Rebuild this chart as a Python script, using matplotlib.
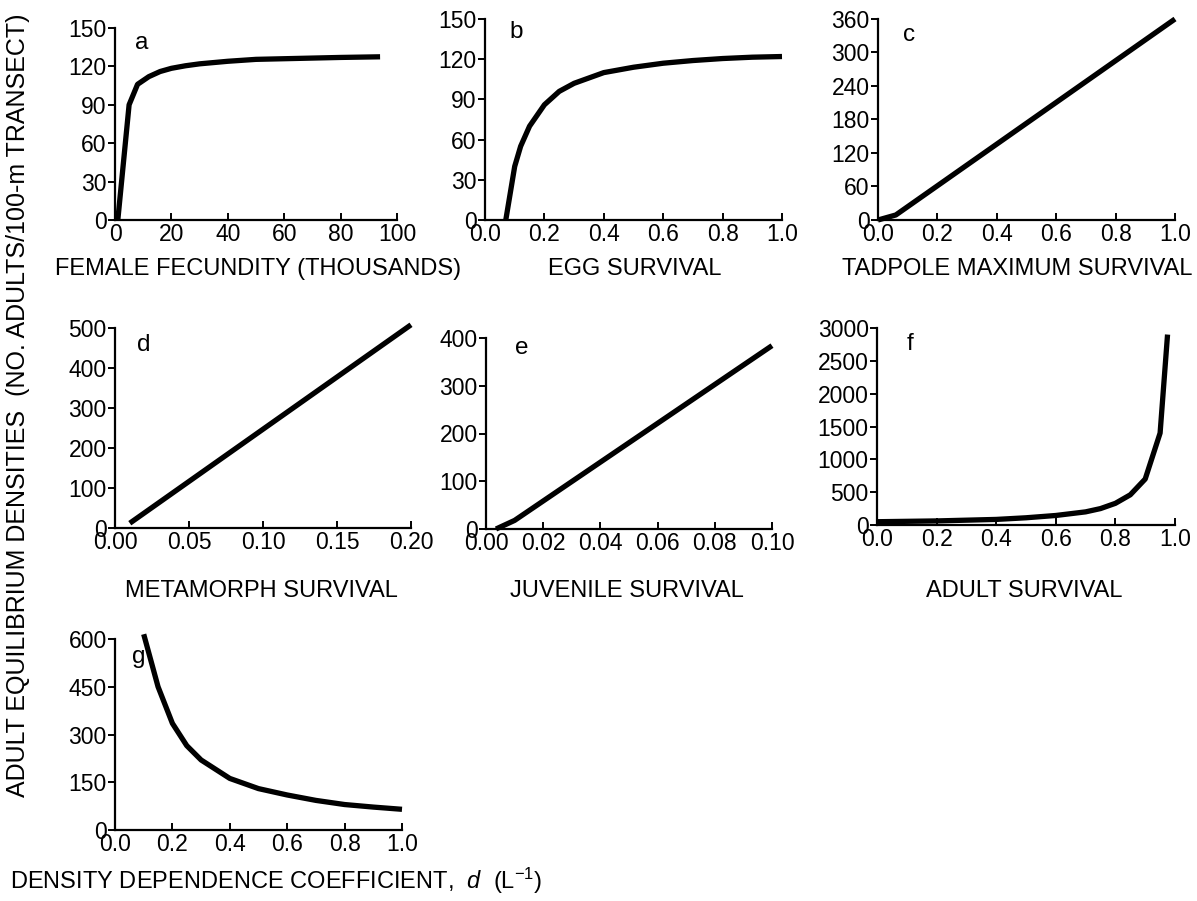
import matplotlib
matplotlib.use('Agg')
from matplotlib import pyplot as plt

plt.rcParams['font.family'] = ['Liberation Sans', 'DejaVu Sans']
plt.rcParams['mathtext.fontset'] = 'custom'
plt.rcParams['mathtext.rm'] = 'Liberation Sans'
plt.rcParams['mathtext.it'] = 'Liberation Sans:italic'

# a: female fecundity (thousands)
fec_x = [1, 5, 8, 12, 16, 20, 25, 30, 40, 50, 60, 70, 80, 94]
fec_y = [0, 90, 106, 112, 116, 118.5, 120.5, 122, 124, 125.5, 126, 126.5, 127, 127.5]
# b: egg survival
egg_x = [0.07, 0.1, 0.12, 0.15, 0.2, 0.25, 0.3, 0.4, 0.5, 0.6, 0.7, 0.8, 0.9, 1.0]
egg_y = [0, 40, 55, 70, 86, 96, 102, 110, 114, 117, 119, 120.5, 121.5, 122]
# c: tadpole maximum survival
tad_x = [0.0, 0.06, 1.0]
tad_y = [0, 9, 360]
# d: metamorph survival
met_x = [0.01, 0.2]
met_y = [12, 508]
# e: juvenile survival
juv_x = [0.0035, 0.01, 0.1]
juv_y = [0, 18, 384]
# f: adult survival
adu_x = [0.0, 0.2, 0.4, 0.5, 0.6, 0.7, 0.75, 0.8, 0.85, 0.9, 0.95, 0.975]
adu_y = [50, 62, 85, 110, 145, 200, 250, 330, 460, 700, 1400, 2900]
# g: density dependence coefficient
dd_x = [0.1, 0.15, 0.2, 0.25, 0.3, 0.4, 0.5, 0.6, 0.7, 0.8, 0.9, 1.0]
dd_y = [615, 450, 335, 265, 220, 162, 130, 110, 93, 80, 72, 65]

W, H = 1197, 901
fig = plt.figure(figsize=(W / 100, H / 100), dpi=100)


def px_axes(left, right, bottom, top):
    return fig.add_axes([left / W, 1 - bottom / H, (right - left) / W, (bottom - top) / H])


panels = [
    # x, y, box (l, r, b, t), xlim, xticks, ylim, yticks, letter, letter pos, fmt
    (fec_x, fec_y, (115, 397, 220, 28), (0, 100), [0, 20, 40, 60, 80, 100],
     (0, 150), [0, 30, 60, 90, 120, 150], 'a', (0.07, 0.92), '{:.0f}'),
    (egg_x, egg_y, (485, 782, 220, 19), (0, 1), [0, 0.2, 0.4, 0.6, 0.8, 1.0],
     (0, 150), [0, 30, 60, 90, 120, 150], 'b', (0.084, 0.935), '{:.1f}'),
    (tad_x, tad_y, (878, 1175, 220, 19), (0, 1), [0, 0.2, 0.4, 0.6, 0.8, 1.0],
     (0, 360), [0, 60, 120, 180, 240, 300, 360], 'c', (0.084, 0.92), '{:.1f}'),
    (met_x, met_y, (115, 411, 528, 328), (0, 0.2), [0, 0.05, 0.1, 0.15, 0.2],
     (0, 500), [0, 100, 200, 300, 400, 500], 'd', (0.074, 0.915), '{:.2f}'),
    (juv_x, juv_y, (486, 772, 529, 338), (0, 0.1), [0, 0.02, 0.04, 0.06, 0.08, 0.1],
     (0, 400), [0, 100, 200, 300, 400], 'e', (0.10, 0.95), '{:.2f}'),
    (adu_x, adu_y, (877, 1175, 525, 328), (0, 1), [0, 0.2, 0.4, 0.6, 0.8, 1.0],
     (0, 3000), [0, 500, 1000, 1500, 2000, 2500, 3000], 'f', (0.10, 0.92), '{:.1f}'),
    (dd_x, dd_y, (115, 402, 830, 639), (0, 1), [0, 0.2, 0.4, 0.6, 0.8, 1.0],
     (0, 600), [0, 150, 300, 450, 600], 'g', (0.06, 0.906), '{:.1f}'),
]

for xs, ys, box, xlim, xt, ylim, yt, letter, lpos, fmt in panels:
    ax = px_axes(*box)
    ax.plot(xs, ys, color='black', lw=3.8, solid_capstyle='butt', clip_on=False)
    ax.set_xlim(*xlim)
    ax.set_ylim(*ylim)
    ax.set_xticks(xt)
    ax.set_xticklabels([fmt.format(v) for v in xt])
    ax.set_yticks(yt)
    ax.set_yticklabels([str(v) for v in yt])
    for s in ['top', 'right']:
        ax.spines[s].set_visible(False)
    for s in ['left', 'bottom']:
        ax.spines[s].set_linewidth(1.6)
    ax.tick_params(axis='x', direction='in', length=5, width=1.4, labelsize=16.5, pad=2)
    ax.tick_params(axis='y', direction='out', length=5, width=1.4, labelsize=16.5, pad=1)
    ax.text(lpos[0], lpos[1], letter, transform=ax.transAxes, fontsize=17.5,
            ha='left', va='center')

# axis titles
lab = dict(fontsize=17, ha='center', va='center')
fig.text(258 / W, 1 - 269 / H, 'FEMALE FECUNDITY (THOUSANDS)', **lab)
fig.text(635 / W, 1 - 269 / H, 'EGG SURVIVAL', **lab)
fig.text(1017 / W, 1 - 269 / H, 'TADPOLE MAXIMUM SURVIVAL', **lab)
fig.text(261 / W, 1 - 591 / H, 'METAMORPH SURVIVAL', **lab)
fig.text(627 / W, 1 - 591 / H, 'JUVENILE SURVIVAL', **lab)
fig.text(1024 / W, 1 - 591 / H, 'ADULT SURVIVAL', **lab)
fig.text(10 / W, 1 - 881 / H, r'DENSITY DEPENDENCE COEFFICIENT,  $d$  (L$^{-1}$)',
         fontsize=17, ha='left', va='center')
fig.text(18 / W, 1 - 405 / H,
         'ADULT EQUILIBRIUM DENSITIES  (NO. ADULTS/100-m TRANSECT)',
         fontsize=18, rotation=90, ha='center', va='center')

fig.savefig('out.png', dpi=100)
